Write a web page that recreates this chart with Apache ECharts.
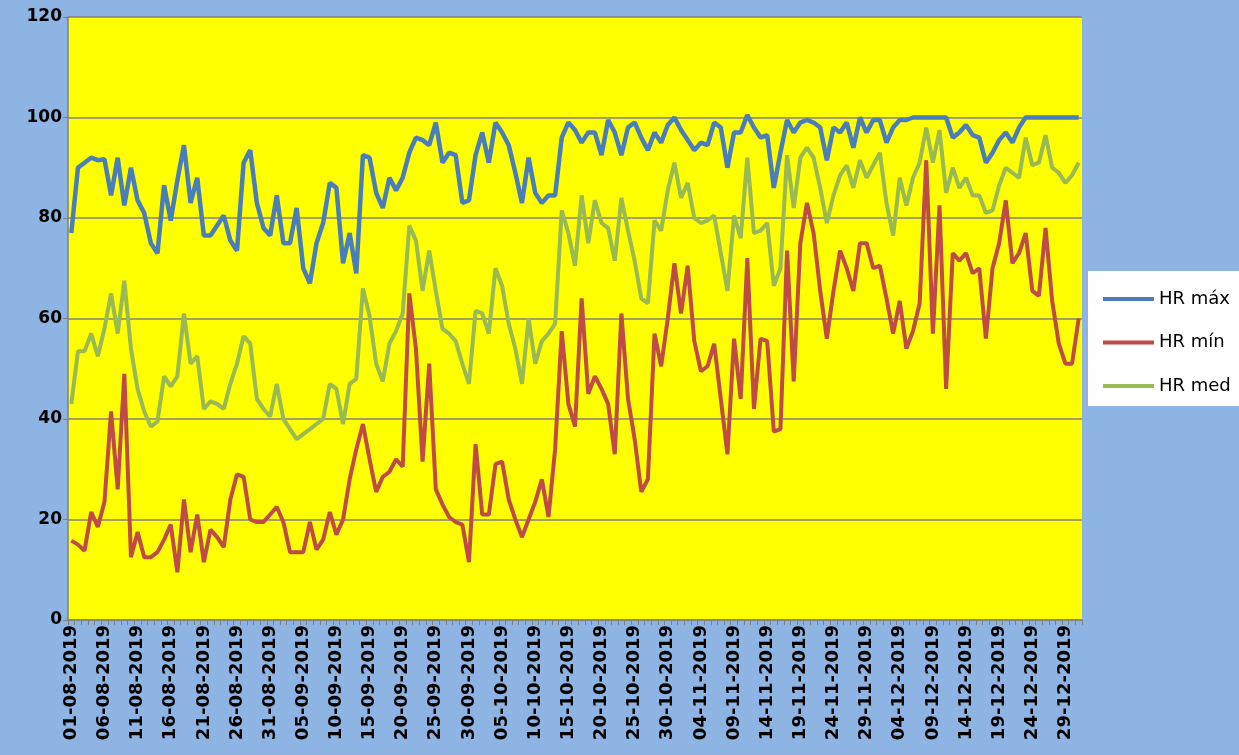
<!DOCTYPE html>
<html>
<head>
<meta charset="utf-8">
<script src="https://cdn.jsdelivr.net/npm/echarts@6/dist/echarts.min.js"></script>
<style>
html,body{margin:0;padding:0;background:#8DB4E2;}
#chart{width:1239px;height:755px;}
</style>
</head>
<body>
<div id="chart"></div>
<script>
// ---- data ----
const seriesNames = ['HR máx', 'HR mín', 'HR med'];
const startDate = [2019, 8, 1];   // first day (01-08-2019)
const dayCount = 153;             // through 31-12-2019
const yTicks = [0, 20, 40, 60, 80, 100, 120];

const hrMax = [
77,90,91,92,91.5,91.7,84.5,92,82.5,90,
83.5,81,75,73,86.5,79.5,87.5,94.5,83,88,
76.5,76.5,78.5,80.5,75.5,73.5,91,93.5,83,78,
76.5,84.5,75,75,82,70,67,75,79,87,
86,71,77,69,92.5,92,85,82,88,85.5,
88,93,96,95.5,94.5,99,91,93,92.5,83,
83.5,92.5,97,91,99,97,94.5,89,83,92,
85,83,84.5,84.5,96,99,97.5,95,97,97,
92.5,99.5,97,92.5,98,99,96,93.5,97,95,
98.5,100,97.5,95.5,93.5,95,94.5,99,98,90,
97,97,100.5,98,96,96.5,86,93,99.5,97,
99,99.5,99,98,91.5,98,97,99,94,100,
97,99.5,99.5,95,98,99.5,99.5,100,100,100,
100,100,100,96,97,98.5,96.5,96,91,93,
95.5,97,95,98,100,100,100,100,100,100,
100,100,100
];

const hrMin = [
15.8,15,13.8,21.5,18.5,23.5,41.5,26,49,12.5,
17.5,12.5,12.5,13.5,16,19,9.5,24,13.5,21,
11.5,18,16.5,14.5,24,29,28.5,20,19.5,19.5,
21,22.5,19.5,13.5,13.5,13.5,19.5,14,16,21.5,
17,20,28,34,39,32,25.5,28.5,29.5,32,
30.5,65,54,31.5,51,26,23,20.5,19.5,19,
11.5,35,21,21,31,31.5,24,20,16.5,20,
23.5,28,20.5,34,57.5,43,38.5,64,45,48.5,
46,43,33,61,44,36,25.5,28,57,50.5,
60,71,61,70.5,55.5,49.5,50.5,55,44,33,
56,44,72,42,56,55.5,37.5,38,73.5,47.5,
75,83,77,65.5,56,65.5,73.5,70,65.5,75,
75,70,70.5,64,57,63.5,54,57.5,63,91.5,
57,82.5,46,73,71.5,73,69,70,56,70,
75,83.5,71,73,77,65.5,64.5,78,63.5,55,
51,51,60
];

const hrMed = [
43,53.5,53.5,57,52.5,58,65,57,67.5,54,
46,41.5,38.5,39.5,48.5,46.5,48.5,61,51,52.5,
42,43.5,43,42,47,51,56.5,55,44,42,
40.5,47,40,38,36,37,38,39,40,47,
46,39,47,48,66,60.5,51,47.5,55,57.5,
61,78.5,75.5,65.5,73.5,65.5,58,57,55.5,51,
47,61.5,61,57,70,66.5,59,54,47,60,
51,55.5,57,59,81.5,77,70.5,84.5,75,83.5,
79,78,71.5,84,77.5,71.5,64,63,79.5,77.5,
85.5,91,84,87,80,79,79.5,80.5,73,65.5,
80.5,76,92,77,77.5,79,66.5,70,92.5,82,
92,94,92,86,79,84.5,88.5,90.5,86,91.5,
88,90.5,93,83,76.5,88,82.5,88,91,98,
91,97.5,85,90,86,88,84.5,84.5,81,81.5,
86.5,90,89,88,96,90.5,91,96.5,90,89,
87,88.5,91
];

// category labels dd-mm-yyyy
const dates = [];
for (let i = 0; i < dayCount; i++) {
  const d = new Date(startDate[0], startDate[1] - 1, startDate[2] + i);
  const dd = String(d.getDate()).padStart(2, '0');
  const mm = String(d.getMonth() + 1).padStart(2, '0');
  dates.push(dd + '-' + mm + '-' + d.getFullYear());
}

const colors = {max: '#4A7EBB', min: '#BE4B48', med: '#98B954'};

const chart = echarts.init(document.getElementById('chart'), null, {renderer: 'canvas'});
chart.setOption({
  backgroundColor: '#8DB4E2',
  animation: false,
  graphic: [{
    type: 'rect', z: 0,
    shape: {x: 1088, y: 271, width: 151, height: 135},
    style: {fill: '#FFFFFF'}
  }],
  legend: {
    data: [seriesNames[0], seriesNames[1], seriesNames[2]],
    orient: 'vertical',
    left: 1098, top: 284,
    itemWidth: 51, itemHeight: 4, itemGap: 23.5,
    icon: 'rect',
    z: 10,
    textStyle: {fontFamily: 'DejaVu Sans', fontSize: 18, color: '#000', lineHeight: 20}
  },
  grid: {
    left: 68, top: 17, right: 157, bottom: 135,
    show: true, backgroundColor: '#FFFF00', borderWidth: 0
  },
  xAxis: {
    type: 'category',
    data: dates,
    boundaryGap: true,
    axisLine: {lineStyle: {color: '#808080', width: 1.5}},
    axisTick: {show: true, interval: 0, length: 5, lineStyle: {color: '#808080'}},
    axisLabel: {
      interval: 4, rotate: 90, margin: 5,
      fontFamily: 'DejaVu Sans', fontWeight: 'bold', fontSize: 18, color: '#000'
    },
    splitLine: {show: false}
  },
  yAxis: {
    type: 'value',
    min: yTicks[0], max: yTicks[yTicks.length - 1], interval: 20,
    axisLine: {show: true, lineStyle: {color: '#808080', width: 1.5}},
    axisTick: {show: true, length: 5, lineStyle: {color: '#808080'}},
    axisLabel: {margin: 6, fontFamily: 'DejaVu Sans', fontWeight: 'bold', fontSize: 17, color: '#000'},
    splitLine: {show: true, lineStyle: {color: '#808080', width: 1.5}}
  },
  series: [
    {name: seriesNames[0], type: 'line', data: hrMax, symbol: 'none',
     itemStyle: {color: colors.max}, lineStyle: {color: colors.max, width: 4.5}, z: 3},
    {name: seriesNames[2], type: 'line', data: hrMed, symbol: 'none',
     itemStyle: {color: colors.med}, lineStyle: {color: colors.med, width: 4}, z: 4},
    {name: seriesNames[1], type: 'line', data: hrMin, symbol: 'none',
     itemStyle: {color: colors.min}, lineStyle: {color: colors.min, width: 4}, z: 5}
  ]
});
</script>
</body>
</html>
